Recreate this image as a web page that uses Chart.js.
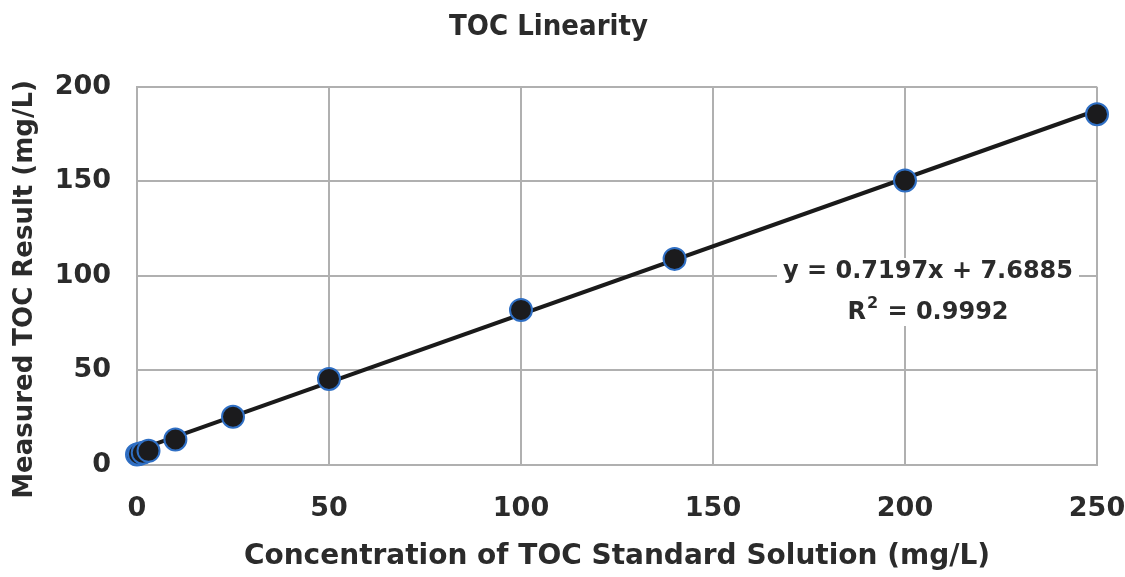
<!DOCTYPE html>
<html>
<head>
<meta charset="utf-8">
<script src="https://cdn.jsdelivr.net/npm/chart.js@4"></script>
<style>
  html, body { margin: 0; padding: 0; background: #fff; }
  #wrap { width: 1125px; height: 577px; }
</style>
</head>
<body>
<div id="wrap"><canvas id="chartToc"></canvas></div>
<script>
// ── DATA ───────────────────────────────────────────────
const concX    = [0, 0.5, 1.5, 3, 10, 25, 50, 100, 140, 200, 250];
const measured = [5.5, 5.8, 6.5, 7.5, 13.5, 25.5, 45.5, 82, 109, 150.5, 185.5];
const trendX   = [0, 250];
const trendY   = [7.7, 187.6];
const eqLine1  = 'y = 0.7197x + 7.6885';
const eqLine2  = ['R', '2', ' = 0.9992'];

const FONT = "'DejaVu Sans', Verdana, sans-serif";
const GRID = '#b0b0b0';
const INK  = '#2b2b2b';

// ── EQUATION LABEL (white box behind it) ───────────────
const eqPlugin = {
  id: 'eqLabel',
  afterDatasetsDraw(chart) {
    const { ctx } = chart;
    const cx = 928;
    ctx.save();
    ctx.fillStyle = '#fff';
    ctx.fillRect(777, 258, 302, 68);

    ctx.fillStyle = INK;
    ctx.textBaseline = 'middle';
    ctx.font = 'bold 24px ' + FONT;
    ctx.textAlign = 'center';
    ctx.fillText(eqLine1, cx, 272);

    // R² line, centred as a whole
    ctx.textAlign = 'left';
    const big = 'bold 24px ' + FONT, small = 'bold 16px ' + FONT;
    ctx.font = big;   const wR = ctx.measureText(eqLine2[0]).width;
    const wRest = ctx.measureText(eqLine2[2]).width;
    ctx.font = small; const w2 = ctx.measureText(eqLine2[1]).width;
    let x = cx - (wR + w2 + 2 + wRest) / 2;
    ctx.font = big;   ctx.fillText(eqLine2[0], x, 313); x += wR + 1;
    ctx.font = small; ctx.fillText(eqLine2[1], x, 304); x += w2 + 1;
    ctx.font = big;   ctx.fillText(eqLine2[2], x, 313);
    ctx.restore();
  }
};

new Chart(document.getElementById('chartToc'), {
  type: 'scatter',
  data: {
    datasets: [
      {
        label: 'Measured',
        data: concX.map((x, i) => ({ x, y: measured[i] })),
        backgroundColor: '#1b1b1d',
        borderColor: '#2f6fc4',
        borderWidth: 2,
        pointRadius: 11,
        clip: false,
        order: 1
      },
      {
        label: 'Trend',
        type: 'line',
        data: trendX.map((x, i) => ({ x, y: trendY[i] })),
        borderColor: '#1a1a1a',
        borderWidth: 4,
        pointRadius: 0,
        clip: false,
        order: 2
      }
    ]
  },
  options: {
    responsive: true,
    maintainAspectRatio: false,
    animation: false,
    layout: { padding: { left: 0, right: 28, top: 0, bottom: 0 } },
    plugins: {
      legend: { display: false },
      tooltip: { enabled: false },
      title: {
        display: true,
        text: 'TOC Linearity',
        color: INK,
        font: { family: "'DejaVu Sans Condensed', " + FONT, size: 29, weight: 'bold' },
        padding: { top: 10, bottom: 42 }
      }
    },
    scales: {
      x: {
        type: 'linear',
        min: 0, max: 250,
        ticks: { stepSize: 50, color: INK, padding: 28, font: { family: FONT, size: 27, weight: 'bold' } },
        grid: { color: GRID, lineWidth: 2, drawTicks: false },
        border: { color: GRID, width: 2 },
        title: {
          display: true,
          text: 'Concentration of TOC Standard Solution (mg/L)',
          color: INK,
          font: { family: FONT, size: 28, weight: 'bold' },
          padding: { top: 10, bottom: 3 }
        },
        afterFit(scale) {
          scale.height = 112;
          scale.paddingLeft = 0;
          scale.paddingRight = 0;
        }
      },
      y: {
        min: 0, max: 200,
        ticks: { stepSize: 50, color: INK, padding: 26, font: { family: FONT, size: 27, weight: 'bold' } },
        grid: { color: GRID, lineWidth: 2, drawTicks: false },
        border: { color: GRID, width: 2 },
        title: {
          display: true,
          text: 'Measured TOC Result (mg/L)\u00A0\u00A0\u00A0',
          color: INK,
          font: { family: FONT, size: 26, weight: 'bold' },
          padding: { top: 10, bottom: 6 }
        },
        afterFit(scale) { scale.width = 137; }
      }
    }
  },
  plugins: [eqPlugin]
});
</script>
</body>
</html>
